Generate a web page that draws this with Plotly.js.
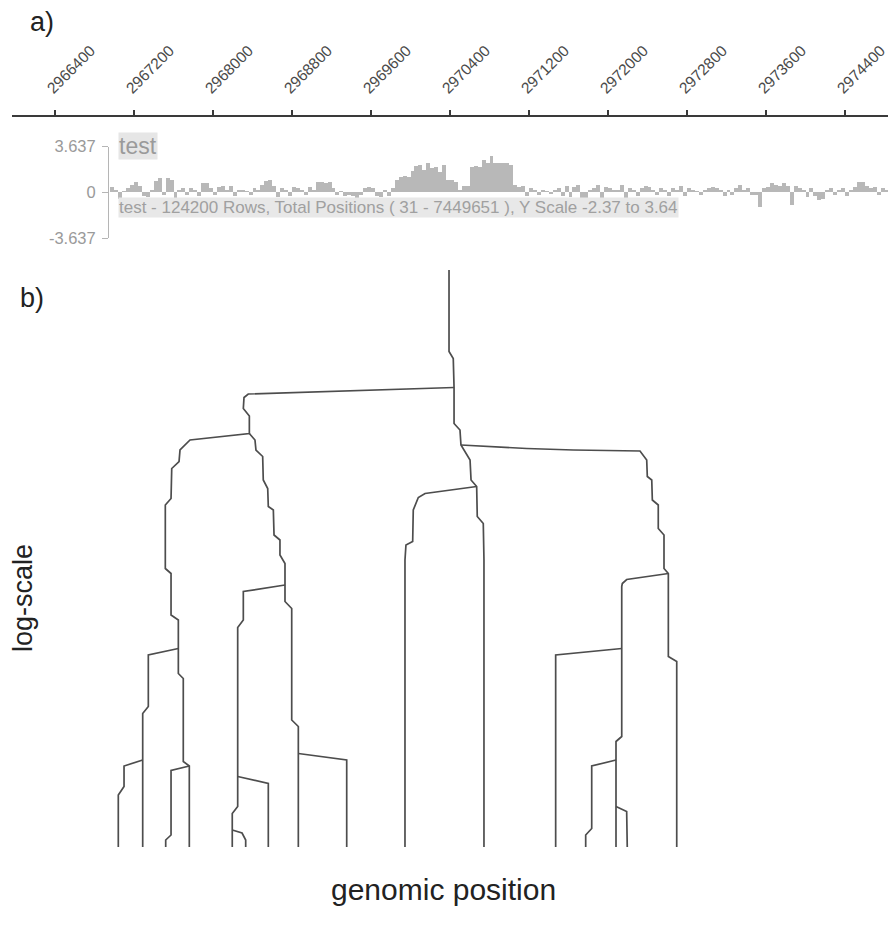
<!DOCTYPE html>
<html>
<head>
<meta charset="utf-8">
<script src="https://cdn.plot.ly/plotly-3.0.1.min.js"></script>
<style>html,body{margin:0;padding:0;background:#fff;}#chart{width:888px;height:934px;}</style>
</head>
<body>
<div id="chart"></div>
<script>
// ---- top genomic axis ----
const tickPositions = [2966400, 2967200, 2968000, 2968800, 2969600, 2970400, 2971200, 2972000, 2972800, 2973600, 2974400];
const tickLabels = ["2966400", "2967200", "2968000", "2968800", "2969600", "2970400", "2971200", "2972000", "2972800", "2973600", "2974400"];

// ---- track "test" (binned signal) ----
const trackName = "test";
const trackCaption = "test - 124200 Rows, Total Positions ( 31 - 7449651 ), Y Scale -2.37 to 3.64";
const trackScale = [-3.637, 0, 3.637];
const trackScaleLabels = ["-3.637", "0", "3.637"];
const binStart = 2966960;
const binSize = 40;
const binValues = [
  0.4, 0.2, -0.5, 0.1, 0.3, 0.6, 0.8, 0.5, -0.3, -0.4,
  0.2, 0.9, 1.1, -0.2, 1.1, 1.0, -0.6, 0.2, 0.3, -0.2,
  0.3, 0.2, -0.3, 0.7, 0.7, 0.3, -0.2, 0.4, 0.5, 0.2,
  0.5, -0.3, 0.2, 0.2, 0.1, -0.2, 0.3, 0.2, 0.6, 0.9,
  1.0, 0.5, -0.4, 0.3, 0.2, -0.3, 0.4, 0.3, 0.2, -0.2,
  0.4, 0.2, 0.8, 0.8, 0.7, 0.8, 0.3, -0.2, 0.1, -0.3,
  -0.2, -0.3, -0.5, -0.2, 0.3, 0.4, 0.3, -0.3, -0.4, 0.2,
  -0.3, 0.3, 1.0, 1.2, 1.3, 1.2, 1.7, 2.1, 2.2, 1.8,
  2.3, 1.9, 2.0, 1.6, 2.2, 1.0, 1.0, 0.8, 0.2, 0.5,
  0.5, 2.0, 2.1, 2.0, 2.6, 2.3, 2.9, 2.3, 2.3, 2.3,
  2.3, 2.2, 0.6, 0.4, 0.5, -0.3, 0.3, 0.2, -0.2, 0.2,
  0.1, -0.1, 0.2, 0.3, -0.3, 0.5, -0.4, 0.4, 0.6, -0.6,
  -0.5, 0.2, 0.3, 0.6, -0.5, 0.4, 0.3, 0.2, 0.2, 0.6,
  -0.6, 0.3, 0.2, -0.3, 0.3, 0.5, 0.4, 0.2, -0.2, 0.3,
  0.2, -0.3, 0.3, 0.2, 0.5, -0.3, 0.3, 0.2, 0.1, -0.2,
  0.2, 0.3, 0.4, 0.3, 0.2, -0.3, 0.2, -0.2, 0.3, 0.6,
  0.2, 0.3, -0.2, -0.2, -1.2, 0.3, 0.4, 0.7, 0.6, 0.5,
  0.7, 0.5, -1.0, 0.5, 0.3, 0.2, -0.4, 0.3, -0.3, -0.6,
  -0.5, 0.2, 0.3, -0.2, 0.2, 0.3, -0.3, 0.2, 0.4, 0.8,
  0.8, 0.5, 0.3, 0.4, -0.2, 0.3, 0.2
];

// ---- dendrogram branches (x: genomic position, y: scale level) ----
const trunkX = [2970390, 2970390, 2970433, 2970441, 2970441, 2970501, 2970511, 2970552, 2970603, 2970613, 2970670, 2970676, 2970737, 2970744, 2970744];
const trunkY = [11.54, 9.91, 9.77, 9.19, 8.47, 8.34, 8.04, 7.91, 7.74, 7.34, 7.21, 6.61, 6.47, 5.74, 0];
const leftCladeX = [2970441, 2969658, 2969151, 2968645, 2968357, 2968314, 2968307, 2968368, 2968368, 2967767, 2967666, 2967656, 2967582, 2967575, 2967517, 2967517, 2967575, 2967575, 2967649, 2967649, 2967649, 2967699, 2967699, 2967760, 2967760];
const leftCladeY = [9.19, 9.14, 9.11, 9.09, 9.06, 8.99, 8.77, 8.62, 8.27, 8.14, 7.94, 7.71, 7.57, 6.97, 6.84, 5.57, 5.47, 4.64, 4.54, 3.97, 3.47, 3.37, 1.71, 1.62, 0];
const n1LeftX = [2967649, 2967345, 2967345, 2967288, 2967288];
const n1LeftY = [3.97, 3.84, 2.81, 2.67, 0];
const n2LeftX = [2967288, 2967099, 2967099, 2967041, 2967041];
const n2LeftY = [1.74, 1.62, 1.21, 1.04, 0];
const n3LeftX = [2967760, 2967575, 2967575, 2967521, 2967521];
const n3LeftY = [1.62, 1.53, 0.24, 0.14, 0];
const lRightX = [2968368, 2968425, 2968435, 2968503, 2968509, 2968554, 2968560, 2968611, 2968618, 2968678, 2968678, 2968729, 2968729, 2968729, 2968797, 2968797, 2968864, 2968864];
const lRightY = [8.27, 8.14, 7.94, 7.81, 7.34, 7.17, 6.81, 6.74, 6.24, 6.14, 5.84, 5.67, 5.24, 4.91, 4.77, 2.54, 2.41, 0];
const n6RightX = [2968864, 2969354, 2969354];
const n6RightY = [1.87, 1.74, 0];
const n4LeftX = [2968729, 2968307, 2968307, 2968250, 2968250, 2968195, 2968195];
const n4LeftY = [5.24, 5.11, 4.54, 4.39, 0.81, 0.67, 0];
const n5RightX = [2968250, 2968560, 2968560];
const n5RightY = [1.41, 1.27, 0];
const n7SmallX = [2968195, 2968294, 2968331, 2968331];
const n7SmallY = [0.34, 0.28, 0.14, 0];
const rightCladeX = [2970511, 2971177, 2971649, 2972088, 2972324, 2972392, 2972398, 2972443, 2972449, 2972509, 2972509, 2972567, 2972567, 2972611, 2972611, 2972696, 2972696];
const rightCladeY = [8.04, 7.97, 7.94, 7.93, 7.92, 7.74, 7.41, 7.34, 6.94, 6.84, 6.37, 6.24, 5.57, 5.47, 3.81, 3.71, 0];
const pLeftX = [2972611, 2972189, 2972145, 2972139, 2972139, 2972081, 2972081];
const pLeftY = [5.47, 5.35, 5.27, 5.21, 2.21, 2.11, 0];
const qLeftX = [2972139, 2971470, 2971470];
const qLeftY = [3.97, 3.84, 0];
const sLeftX = [2972081, 2971835, 2971835, 2971774, 2971774];
const sLeftY = [1.74, 1.62, 0.37, 0.24, 0];
const sSmallX = [2972081, 2972189, 2972195];
const sSmallY = [0.81, 0.71, 0];
const tLeftX = [2970670, 2970147, 2970079, 2970028, 2970022, 2969954, 2969944, 2969944];
const tLeftY = [7.21, 7.07, 6.99, 6.74, 6.11, 6.04, 5.74, 0];

const branches = [
  [trunkX, trunkY], [leftCladeX, leftCladeY], [n1LeftX, n1LeftY], [n2LeftX, n2LeftY],
  [n3LeftX, n3LeftY], [lRightX, lRightY], [n6RightX, n6RightY], [n4LeftX, n4LeftY],
  [n5RightX, n5RightY], [n7SmallX, n7SmallY], [rightCladeX, rightCladeY], [pLeftX, pLeftY],
  [qLeftX, qLeftY], [sLeftX, sLeftY], [sSmallX, sSmallY], [tLeftX, tLeftY]
];

const W = 888, H = 934;
const px = v => v / W;
const py = v => 1 - v / H;
const FONT = "Liberation Sans, Arial, sans-serif";

const traces = [];
traces.push({
  type: "bar",
  x0: binStart + binSize / 2,
  dx: binSize,
  y: binValues,
  xaxis: "x",
  yaxis: "y2",
  marker: {color: "#b8b8b8", line: {width: 0}},
  showlegend: false,
  hoverinfo: "skip"
});
branches.forEach(b => {
  traces.push({
    type: "scatter",
    mode: "lines",
    x: b[0],
    y: b[1],
    xaxis: "x",
    yaxis: "y3",
    line: {color: "#4d4d4d", width: 1.7},
    showlegend: false,
    hoverinfo: "skip"
  });
});

const layout = {
  width: W, height: H,
  margin: {l: 0, r: 0, t: 0, b: 0},
  paper_bgcolor: "#fff",
  plot_bgcolor: "rgba(0,0,0,0)",
  font: {family: FONT, color: "#444"},
  showlegend: false,
  hovermode: false,
  bargap: 0,
  xaxis: {
    domain: [px(12), 1],
    range: [2965964.5, 2974835.4],
    anchor: "free",
    position: py(115),
    side: "top",
    showline: true, linecolor: "#3a3a3a", linewidth: 1.5,
    ticks: "outside", ticklen: 5, tickcolor: "#3a3a3a", tickwidth: 1.2,
    tickmode: "array", tickvals: tickPositions, ticktext: tickLabels,
    tickangle: -45,
    ticklabeloverflow: "allow",
    ticklabelshift: -7,
    ticklabelstandoff: 7,
    tickfont: {family: FONT, size: 15.5, color: "#4a4a4a"},
    showgrid: false, zeroline: false, fixedrange: true
  },
  yaxis2: {
    domain: [py(238), py(146.5)],
    range: [-3.637, 3.637],
    anchor: "free",
    position: px(108),
    showline: true, linecolor: "#b5b5b5", linewidth: 1,
    ticks: "outside", ticklen: 6, tickcolor: "#b5b5b5",
    tickmode: "array", tickvals: trackScale, ticktext: trackScaleLabels,
    tickfont: {family: FONT, size: 16.5, color: "#9a9a9a"},
    ticklabelstandoff: 3,
    showgrid: false, zeroline: false, fixedrange: true
  },
  yaxis3: {
    domain: [py(847), py(270)],
    range: [0, 11.54],
    anchor: "free",
    position: 0,
    visible: false,
    fixedrange: true
  },
  annotations: [
    {text: "a)", x: px(28), y: py(22), xref: "paper", yref: "paper", xanchor: "left", yanchor: "middle", showarrow: false, font: {family: FONT, size: 27, color: "#222"}},
    {text: "b)", x: px(18), y: py(298), xref: "paper", yref: "paper", xanchor: "left", yanchor: "middle", showarrow: false, font: {family: FONT, size: 27, color: "#222"}},
    {text: trackName, x: px(118), y: py(146), xref: "paper", yref: "paper", xanchor: "left", yanchor: "middle", showarrow: false, bgcolor: "#e6e6e6", borderpad: 0, font: {family: FONT, size: 23, color: "#9a9a9a"}},
    {text: trackCaption, x: px(118), y: py(207), xref: "paper", yref: "paper", xanchor: "left", yanchor: "middle", showarrow: false, bgcolor: "#e8e8e8", borderpad: 0, font: {family: FONT, size: 17, color: "#a0a0a0"}},
    {text: "log-scale", x: px(23), y: py(598), xref: "paper", yref: "paper", xanchor: "center", yanchor: "middle", textangle: -90, showarrow: false, font: {family: FONT, size: 27, color: "#222"}},
    {text: "genomic position", x: px(443), y: py(889), xref: "paper", yref: "paper", xanchor: "center", yanchor: "middle", showarrow: false, font: {family: FONT, size: 30, color: "#222"}}
  ]
};

Plotly.newPlot("chart", traces, layout, {displayModeBar: false, staticPlot: true});
</script>
</body>
</html>
